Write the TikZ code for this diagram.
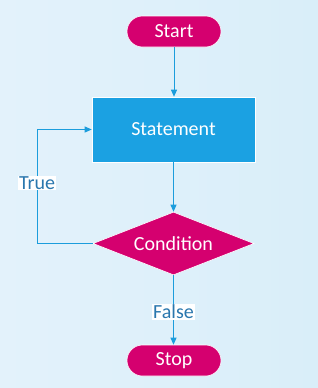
\documentclass[tikz,border=0pt]{standalone}
\usepackage{fontspec}
\setmainfont{Carlito}
\usetikzlibrary{shapes.geometric,arrows.meta}
\definecolor{bgA}{HTML}{E3F2FB}
\definecolor{bgB}{HTML}{D9EEF9}
\definecolor{mag}{HTML}{D5006F}
\definecolor{boxblue}{HTML}{1BA1E2}
\definecolor{linec}{HTML}{1B9DDC}
\definecolor{lbl}{HTML}{2A77AE}
\tikzset{
  term/.style={draw=white, line width=0.6pt, fill=mag, rounded corners=15.5pt, minimum width=94pt, minimum height=31pt, text=white, font=\fontsize{20}{22}\selectfont},
  stmt/.style={draw=white, line width=0.6pt, fill=boxblue, minimum width=163pt, minimum height=65pt, text=white, font=\fontsize{20}{22}\selectfont},
  cond/.style={diamond, draw=white, line width=0.6pt, fill=mag, aspect=2.55, minimum width=161pt, minimum height=63pt, inner sep=0pt, text=white, font=\fontsize{20}{22}\selectfont},
  conn/.style={draw=linec, line width=0.8pt, -{Triangle[length=7pt,width=6pt]}},
  lab/.style={fill=white, text=lbl, inner sep=1pt, font=\fontsize{20}{22}\selectfont},
}
\begin{document}
\begin{tikzpicture}[x=1pt,y=-1pt]
\shade[left color=bgA, right color=bgB] (0,0) rectangle (318,388);
\useasboundingbox (0,0) rectangle (318,388);
\node[term] (start) at (174,31.5) {Start};
\node[stmt] (st) at (173.5,129.5) {Statement};
\node[cond] (c) at (173.5,243.5) {Condition};
\node[term] (stop) at (174,360.5) {Stop};
\coordinate (lb) at (37,243.5);
\coordinate (lt) at (37,129.5);
\draw[conn] (start) -- (st.north -| start);
\draw[conn] (st) -- (c.north);
\draw[conn] (c.west) -- (lb) -- (lt) -- (st.west);
\draw[conn] (c.south) -- node[lab, pos=0.53] {False} (stop.north -| c.south);
\node[lab] (tl) at (37,183) {True};
\end{tikzpicture}
\end{document}
